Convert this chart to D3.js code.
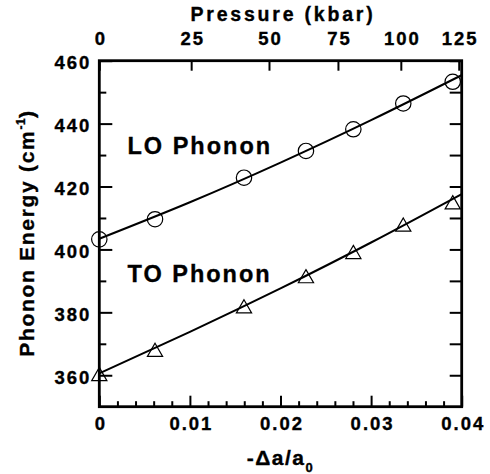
<!DOCTYPE html>
<html>
<head>
<meta charset="utf-8">
<script src="https://cdn.jsdelivr.net/npm/d3@7"></script>
<style>
  html, body { margin: 0; padding: 0; background: #fff; }
  svg { display: block; }
  text { font-family: "Liberation Sans", Arial, sans-serif; font-weight: bold; fill: #000;
         stroke: #000; stroke-width: 0.35px; }
</style>
</head>
<body>
<script>
// ---- data ----
const strain = [0, 0.00615, 0.01597, 0.02281, 0.02804, 0.03355, 0.03901];
const loEnergy = [403.2, 409.6, 422.8, 431.3, 438.2, 446.4, 453.3];
const toEnergy = [359.7, 367.4, 381.2, 390.8, 398.5, 407.2, 414.3];
const fitStrain = [0, 0.01, 0.02, 0.03, 0.04];
const loFit = [403.4, 415.0, 427.6, 441.1, 455.4];
const toFit = [360.6, 373.8, 387.6, 402.2, 417.6];
const pressureTicks = [0, 25, 50, 75, 100, 125];
const pressureTickStrain = [0, 0.01014, 0.01873, 0.02634, 0.03328, 0.03967];
const energyMajor = [360, 380, 400, 420, 440, 460];
const energyMinor = [370, 390, 410, 430, 450];
const strainMajor = [0, 0.01, 0.02, 0.03, 0.04];
const strainMinor = [0.002, 0.004, 0.006, 0.008, 0.012, 0.014, 0.016, 0.018,
                     0.022, 0.024, 0.026, 0.028, 0.032, 0.034, 0.036, 0.038];
const labels = ["LO Phonon", "TO Phonon"];

const W = 490, H = 474;
const L = 99.3, R = 461.7, T = 60.7, B = 406.7;
const FONT = "'Liberation Sans', Arial, sans-serif";

const svg = d3.select("body").append("svg").attr("width", W).attr("height", H);

const x = d3.scaleLinear().domain([0, 0.04]).range([L, R]);
const y = d3.scaleLinear().domain([350, 460]).range([B, T]);

function styleAxis(g) {
  g.select(".domain").remove();
  g.selectAll(".tick line").attr("stroke", "#000").attr("stroke-width", 2);
  g.selectAll(".tick text").style("font-size", "18.5px").style("font-family", FONT)
    .style("font-weight", "bold").style("letter-spacing", "2px")
    .attr("fill", "#000").attr("stroke", "#000").attr("stroke-width", 0.35);
}

// left axis (major + minor)
svg.append("g").attr("transform", `translate(${L},0)`)
  .call(d3.axisLeft(y).tickValues(energyMajor).tickSize(-13).tickPadding(8).tickFormat(d3.format("d")))
  .call(styleAxis)
  .call(g => g.selectAll(".tick text").attr("dy", "0.44em"));
svg.append("g").attr("transform", `translate(${L},0)`)
  .call(d3.axisLeft(y).tickValues(energyMinor).tickSize(-7).tickFormat(""))
  .call(styleAxis);

// right axis (ticks only)
svg.append("g").attr("transform", `translate(${R},0)`)
  .call(d3.axisRight(y).tickValues(energyMajor.concat(energyMinor)).tickSize(-12).tickFormat(""))
  .call(styleAxis);

// bottom axis
svg.append("g").attr("transform", `translate(0,${B})`)
  .call(d3.axisBottom(x).tickValues(strainMajor).tickSize(-11).tickPadding(10)
        .tickFormat(d => d === 0 ? "0" : d3.format(".2f")(d)))
  .call(styleAxis)
  .call(g => g.selectAll(".tick text").attr("dx", "1px"));
svg.append("g").attr("transform", `translate(0,${B})`)
  .call(d3.axisBottom(x).tickValues(strainMinor).tickSize(-5.5).tickFormat(""))
  .call(styleAxis);

// top axis: pressure
svg.append("g").attr("transform", `translate(0,${T})`)
  .call(d3.axisTop(x).tickValues(pressureTickStrain).tickSize(-10).tickPadding(16)
        .tickFormat((d, i) => pressureTicks[i]))
  .call(styleAxis)
  .call(g => g.selectAll(".tick text").attr("dx", "1px"));

// frame
svg.append("rect").attr("x", L).attr("y", T).attr("width", R - L).attr("height", B - T)
  .attr("fill", "none").attr("stroke", "#000").attr("stroke-width", 2.8);

// fit curves
const line = d3.line().x(d => x(d[0])).y(d => y(d[1])).curve(d3.curveNatural);
[loFit, toFit].forEach(fit => {
  svg.append("path").datum(fitStrain.map((s, i) => [s, fit[i]]))
    .attr("d", line).attr("fill", "none").attr("stroke", "#000").attr("stroke-width", 2);
});

// markers
svg.append("g").selectAll("circle").data(strain.map((s, i) => [s, loEnergy[i]])).join("circle")
  .attr("cx", d => x(d[0])).attr("cy", d => y(d[1])).attr("r", 7.7)
  .attr("fill", "none").attr("stroke", "#000").attr("stroke-width", 1.2);
const tri = d3.symbol().type(d3.symbolTriangle).size(100);
svg.append("g").selectAll("path").data(strain.map((s, i) => [s, toEnergy[i]])).join("path")
  .attr("d", tri).attr("transform", d => `translate(${x(d[0])},${y(d[1])})`)
  .attr("fill", "none").attr("stroke", "#000").attr("stroke-width", 1.2);

// series labels
svg.append("text").attr("x", 127.5).attr("y", 153.5)
  .style("font-size", "23.5px").style("letter-spacing", "2px").text(labels[0]);
svg.append("text").attr("x", 127.5).attr("y", 281.5)
  .style("font-size", "23.5px").style("letter-spacing", "2px").text(labels[1]);

// top title
svg.append("text").attr("x", (L + R) / 2 + 2.5).attr("y", 21).attr("text-anchor", "middle")
  .style("font-size", "19.5px").style("letter-spacing", "2.8px").text("Pressure (kbar)");

// bottom title
const bt = svg.append("text").attr("x", (L + R) / 2).attr("y", 465).attr("text-anchor", "middle")
  .style("font-size", "21px").style("letter-spacing", "1.5px");
bt.append("tspan").text("-Δa/a");
bt.append("tspan").attr("dy", 7).style("font-size", "13px").text("0");

// y title
const yt = svg.append("text").attr("transform", "translate(33.5,233) rotate(-90)")
  .attr("text-anchor", "middle").style("font-size", "21px").style("letter-spacing", "1.7px");
yt.append("tspan").text("Phonon Energy (cm");
yt.append("tspan").attr("dy", -9).style("font-size", "12px").style("letter-spacing", "0.5px").text("-1");
yt.append("tspan").attr("dy", 9).text(")");
</script>
</body>
</html>
